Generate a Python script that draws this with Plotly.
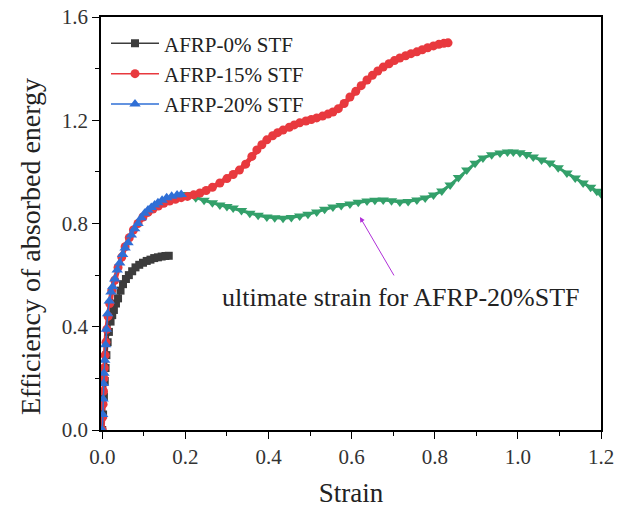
import plotly.graph_objects as go

black_x = [0.000,0.002,0.004,0.006,0.008,0.010,0.013,0.016,0.020,0.024,0.028,0.033,0.038,0.044,0.050,0.057,0.064,0.072,0.080,0.089,0.098,0.107,0.116,0.125,0.134,0.143,0.152,0.160]
black_y = [0.000,0.060,0.130,0.190,0.240,0.290,0.340,0.380,0.420,0.445,0.465,0.490,0.510,0.540,0.565,0.585,0.600,0.615,0.630,0.640,0.648,0.655,0.660,0.666,0.669,0.672,0.674,0.675]

red_x = [0,0.001,0.002,0.003,0.004,0.005,0.007,0.009,0.011,0.014,0.018,0.023,0.030,0.038,0.047,0.055,0.065,0.075,0.086,0.098,0.11,0.122,0.135,0.148,0.162,0.176,0.19,0.205,0.22,0.235,0.25,0.265,0.283,0.3,0.315,0.33,0.345,0.36,0.372,0.384,0.396,0.41,0.422,0.435,0.45,0.462,0.475,0.49,0.503,0.516,0.53,0.543,0.555,0.568,0.582,0.596,0.61,0.623,0.637,0.65,0.663,0.676,0.69,0.703,0.716,0.73,0.743,0.757,0.77,0.783,0.797,0.81,0.822,0.832]
red_y = [0,0.05,0.1,0.15,0.2,0.24,0.29,0.34,0.39,0.44,0.49,0.54,0.58,0.63,0.67,0.71,0.745,0.775,0.80,0.825,0.843,0.856,0.868,0.878,0.887,0.894,0.90,0.905,0.911,0.918,0.928,0.94,0.957,0.974,0.99,1.007,1.03,1.06,1.085,1.105,1.124,1.14,1.152,1.162,1.173,1.182,1.19,1.197,1.203,1.209,1.216,1.224,1.232,1.245,1.265,1.29,1.312,1.334,1.356,1.374,1.391,1.406,1.419,1.431,1.441,1.45,1.458,1.465,1.473,1.481,1.488,1.494,1.498,1.50]

blue_x = [0,0.001,0.002,0.003,0.004,0.006,0.008,0.010,0.013,0.017,0.021,0.025,0.030,0.036,0.042,0.049,0.055,0.062,0.07,0.078,0.086,0.094,0.102,0.11,0.118,0.126,0.134,0.144,0.155,0.167,0.18,0.19]
blue_y = [0,0.06,0.12,0.18,0.22,0.27,0.33,0.39,0.45,0.50,0.535,0.555,0.585,0.62,0.647,0.68,0.705,0.725,0.755,0.78,0.80,0.822,0.84,0.852,0.862,0.872,0.88,0.89,0.90,0.906,0.91,0.912]

green_x = [0.205,0.225,0.245,0.265,0.283,0.3,0.315,0.335,0.355,0.375,0.396,0.415,0.435,0.455,0.475,0.495,0.516,0.535,0.555,0.575,0.596,0.616,0.637,0.656,0.676,0.696,0.716,0.736,0.757,0.777,0.797,0.817,0.837,0.857,0.877,0.897,0.916,0.937,0.957,0.975,0.989,1.005,1.021,1.037,1.057,1.077,1.097,1.118,1.138,1.157,1.175,1.19,1.2]
green_y = [0.912,0.9,0.89,0.88,0.872,0.866,0.86,0.85,0.84,0.832,0.825,0.822,0.82,0.823,0.829,0.836,0.845,0.855,0.864,0.87,0.876,0.882,0.887,0.89,0.891,0.888,0.883,0.885,0.891,0.899,0.91,0.926,0.949,0.978,1.007,1.033,1.054,1.066,1.073,1.077,1.077,1.074,1.067,1.058,1.046,1.034,1.016,0.996,0.976,0.957,0.94,0.925,0.915]

x_ticks = [0.0, 0.2, 0.4, 0.6, 0.8, 1.0, 1.2]
y_ticks = [0.0, 0.4, 0.8, 1.2, 1.6]

FONT = "Liberation Serif"

RED = "#e8393e"
GREEN = "#33a06a"
BLUE = "#2f6fd6"
BLACK = "#3c3c3c"

fig = go.Figure()
fig.add_trace(go.Scatter(x=red_x, y=red_y, mode="lines", showlegend=False, hoverinfo="skip",
                         line=dict(color=RED, width=5)))
fig.add_trace(go.Scatter(x=green_x, y=green_y, mode="lines", showlegend=False, hoverinfo="skip",
                         line=dict(color=GREEN, width=3)))
fig.add_trace(go.Scatter(x=green_x, y=green_y, mode="markers", showlegend=False,
                         marker=dict(symbol="triangle-down", size=10, color=GREEN)))
fig.add_trace(go.Scatter(x=black_x, y=black_y, mode="lines+markers", name="AFRP-0% STF",
                         line=dict(color=BLACK, width=1.5),
                         marker=dict(symbol="square", size=8, color=BLACK)))
fig.add_trace(go.Scatter(x=red_x, y=red_y, mode="lines+markers", name="AFRP-15% STF",
                         line=dict(color=RED, width=1.5),
                         marker=dict(symbol="circle", size=9, color=RED)))
fig.add_trace(go.Scatter(x=blue_x, y=blue_y, mode="lines+markers", name="AFRP-20% STF",
                         line=dict(color=BLUE, width=1.5),
                         marker=dict(symbol="triangle-up", size=10, color=BLUE)))

axis_common = dict(showline=True, linecolor="black", linewidth=1.5, mirror=True,
                   ticks="outside", ticklen=7, tickwidth=1.2, tickcolor="black",
                   showgrid=False, zeroline=False, automargin=False,
                   tickfont=dict(family=FONT, size=21, color="#333333"))

fig.update_xaxes(range=[-0.003, 1.2], tickvals=x_ticks, ticktext=[f"{v:.1f}" for v in x_ticks],
                 minor=dict(dtick=0.1, ticks="outside", ticklen=4, tickcolor="black", tickwidth=1),
                 title=dict(text="Strain", font=dict(family=FONT, size=27, color="#222222"), standoff=15),
                 **axis_common)
fig.update_yaxes(range=[0, 1.6], tickvals=y_ticks, ticktext=[f"{v:.1f}" for v in y_ticks],
                 minor=dict(dtick=0.2, ticks="outside", ticklen=4, tickcolor="black", tickwidth=1),
                 **axis_common)

# y-axis title (placed as an annotation since it sits below the axis centre in the original)
fig.add_annotation(x=0, y=0.443, xref="paper", yref="paper", xshift=-71,
                   text="Efficiency of absorbed energy", textangle=-90, showarrow=False,
                   xanchor="center", yanchor="middle",
                   font=dict(family=FONT, size=28, color="#222222"))

fig.add_annotation(x=0.62, y=0.825, ax=0.704, ay=0.593, xref="x", yref="y", axref="x", ayref="y",
                   text="", showarrow=True, arrowhead=2, arrowsize=1, arrowwidth=1, arrowcolor="#b030d8")
fig.add_annotation(x=0.719, y=0.515, xref="x", yref="y", text="ultimate strain for AFRP-20%STF",
                   showarrow=False, font=dict(family=FONT, size=26, color="#222222"))

fig.update_layout(
    width=617, height=516,
    margin=dict(l=101, r=16, t=17, b=86),
    plot_bgcolor="white", paper_bgcolor="white",
    legend=dict(x=0.01, y=0.985, xanchor="left", yanchor="top", bgcolor="rgba(0,0,0,0)",
                font=dict(family=FONT, size=21, color="#222222"), tracegroupgap=0, itemwidth=48),
)

fig.write_html("out.html", config={"displayModeBar": False},
               post_script="document.body.style.margin='0';")
